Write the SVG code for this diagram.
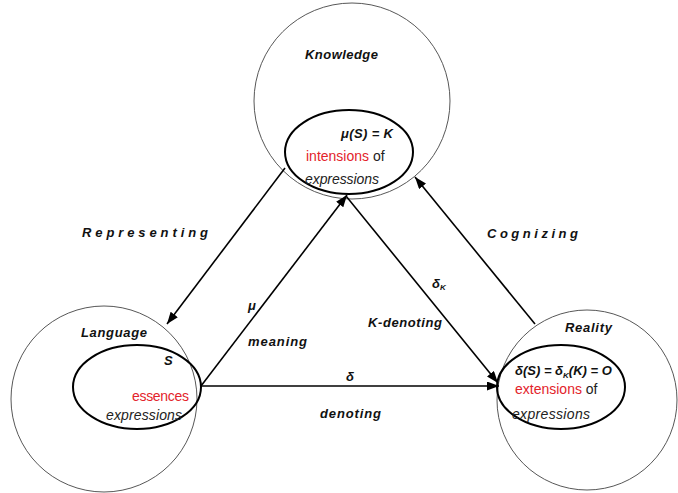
<svg xmlns="http://www.w3.org/2000/svg" width="678" height="493" viewBox="0 0 678 493">
<style>
text{font-family:"Liberation Sans","Open Sans",sans-serif;fill:#111}
.big{fill:none;stroke:#444;stroke-width:0.9}
.inner{stroke:#000;stroke-width:2}
.lbl{font-size:13px;font-weight:bold;font-style:italic}
.red{fill:#e3232b;font-size:14px}
.reg{font-size:14px;fill:#222}
.it{font-size:14px;font-style:italic;fill:#222}
.conn{stroke:#000;stroke-width:1.6;fill:none}
</style>
<defs>
<marker id="ah" markerUnits="userSpaceOnUse" markerWidth="12" markerHeight="9" refX="12" refY="4.5" orient="auto">
<path d="M0,0 L12,4.5 L0,9 z" fill="#000"/>
</marker>
</defs>
<rect width="678" height="493" fill="#fff"/>
<g id="knowledge">
<circle class="big" cx="352" cy="101" r="98"/>
<ellipse class="inner" cx="349" cy="152" rx="64" ry="42" fill="#fff"/>
<text class="lbl" x="305" y="59" textLength="73">Knowledge</text>
<text class="lbl" x="341" y="138" textLength="52">μ(S)  = K</text>
<text x="306" y="161"><tspan class="red">intensions</tspan><tspan class="reg"> of</tspan></text>
<text class="it" x="305" y="184" textLength="74">expressions</text>
</g>
<g id="language">
<circle class="big" cx="104" cy="399" r="93"/>
<ellipse class="inner" cx="137" cy="387" rx="64" ry="42" fill="none"/>
<text class="lbl" x="81" y="337" textLength="66">Language</text>
<text class="lbl" x="164" y="365">S</text>
<text class="red" x="132" y="401" textLength="57">essences</text>
<text class="it" x="106" y="420" textLength="76">expressions</text>
</g>
<g id="reality">
<circle class="big" cx="587" cy="400" r="90"/>
<ellipse class="inner" cx="561" cy="387" rx="64" ry="42" fill="none"/>
<text class="lbl" x="565" y="332" textLength="47">Reality</text>
<text class="lbl" x="515" y="375" font-size="14">δ(S) = δ<tspan font-size="8" dy="3">K</tspan><tspan dy="-3">(K) = O</tspan></text>
<text x="515" y="394"><tspan class="red">extensions</tspan><tspan class="reg"> of</tspan></text>
<text class="it" x="512" y="419" textLength="78">expressions</text>
</g>
<g id="connectors">
<line class="conn" x1="285" y1="168" x2="167" y2="324" marker-end="url(#ah)"/>
<line class="conn" x1="535" y1="324" x2="415" y2="177" marker-end="url(#ah)"/>
<line class="conn" x1="201" y1="386" x2="347" y2="195" marker-end="url(#ah)"/>
<line class="conn" x1="346" y1="196" x2="498" y2="383" marker-end="url(#ah)"/>
<line class="conn" x1="201" y1="386" x2="499" y2="386" marker-end="url(#ah)"/>
</g>
<g id="labels">
<text class="lbl" x="82" y="237" textLength="130" letter-spacing="4">Representing</text>
<text class="lbl" x="487" y="238" textLength="95" letter-spacing="4">Cognizing</text>
<text class="lbl" x="248" y="310">μ</text>
<text class="lbl" x="248" y="346" textLength="59">meaning</text>
<text class="lbl" x="432" y="288">δ<tspan font-size="8" dy="2">K</tspan></text>
<text class="lbl" x="368" y="327" textLength="74">K-denoting</text>
<text class="lbl" x="346" y="381">δ</text>
<text class="lbl" x="320" y="418" textLength="61">denoting</text>
</g>
</svg>
